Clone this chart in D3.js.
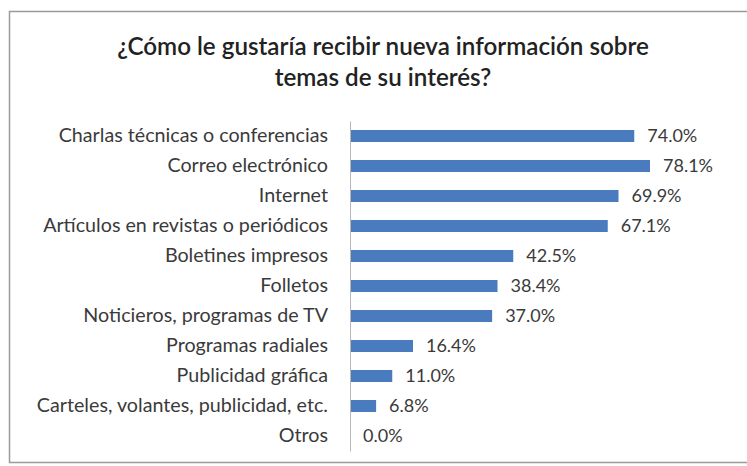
<!DOCTYPE html>
<html><head><meta charset="utf-8">
<script src="https://cdn.jsdelivr.net/npm/d3@7"></script>
<style>body{margin:0;background:#fff}svg{display:block}</style>
</head><body>
<svg id="c" width="747" height="466"></svg>
<script>
const categories = ["Charlas técnicas o conferencias","Correo electrónico","Internet","Artículos en revistas o periódicos","Boletines impresos","Folletos","Noticieros, programas de TV","Programas radiales","Publicidad gráfica","Carteles, volantes, publicidad, etc.","Otros"];
const values = [74.0,78.1,69.9,67.1,42.5,38.4,37.0,16.4,11.0,6.8,0.0];
const titleLines = ["¿Cómo le gustaría recibir nueva información sobre","temas de su interés?"];

const svg = d3.select("#c");
const font = "Lato, 'Open Sans', sans-serif";
// frame
svg.append("rect").attr("x",9.5).attr("y",11.5).attr("width",760).attr("height",451)
  .attr("fill","#fff").attr("stroke","#9a9a9a").attr("stroke-width",1.5);

const x = d3.scaleLinear().domain([0,78.1]).range([350,650]);
const y = d3.scaleBand().domain(categories).range([121,451]).paddingInner(0.6).paddingOuter(0.3);

svg.append("g").selectAll("text").data(titleLines).join("text")
  .attr("x",383).attr("y",(d,i)=>55+i*31).attr("text-anchor","middle")
  .attr("font-family",font).attr("font-size",24.2).attr("font-weight",600).attr("fill","#222")
  .text(d=>d);

svg.append("g").selectAll("rect").data(values).join("rect")
  .attr("x",x(0)).attr("y",(d,i)=>y(categories[i]))
  .attr("width",d=>x(d)-x(0)).attr("height",y.bandwidth()).attr("fill","#4a7bbf");

const ax = d3.axisLeft(y).tickSize(0).tickPadding(22);
const g = svg.append("g").attr("transform",`translate(${x(0)},0)`).call(ax);
g.select(".domain").attr("stroke","#b8b8b8");
g.selectAll("text").attr("font-family",font).attr("font-size",19.7).attr("fill","#3a3a3a");

svg.append("g").selectAll("text").data(values).join("text")
  .attr("x",d=>x(d)+13).attr("y",(d,i)=>y(categories[i])+y.bandwidth()/2)
  .attr("dy","0.35em").attr("font-family",font).attr("font-size",18).attr("fill","#3a3a3a")
  .text(d=>d.toFixed(1)+"%");
</script>
</body></html>
